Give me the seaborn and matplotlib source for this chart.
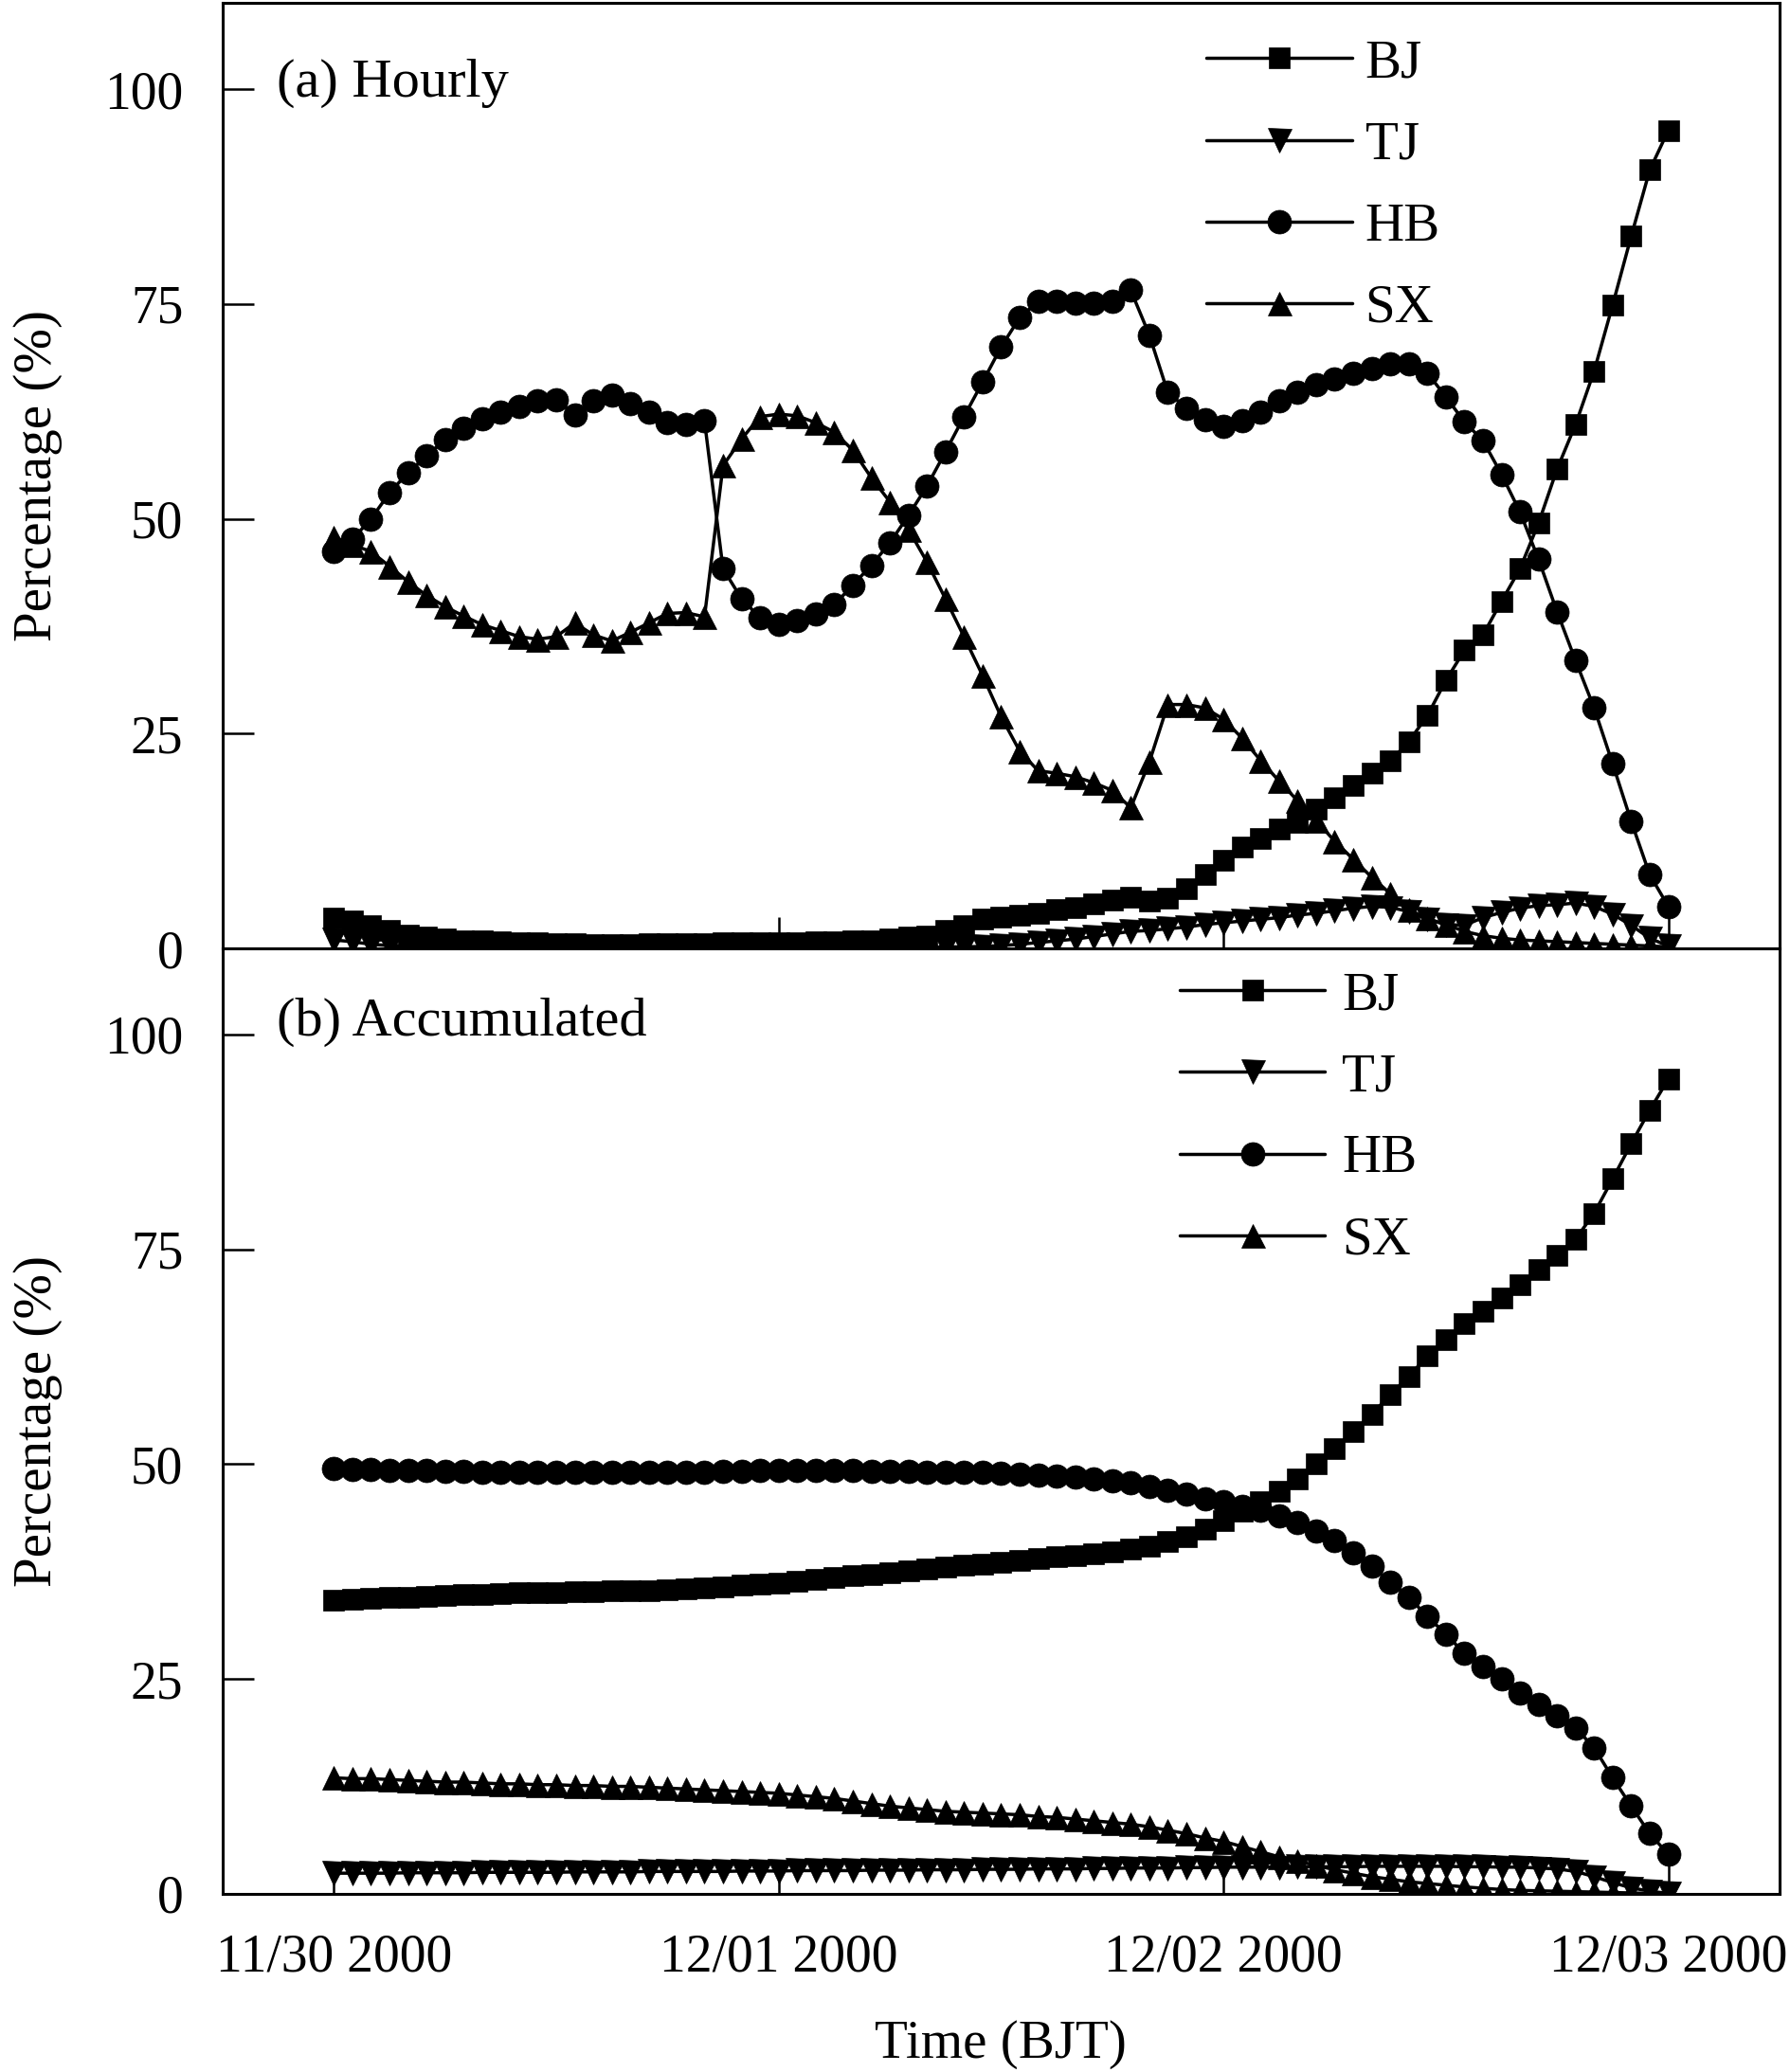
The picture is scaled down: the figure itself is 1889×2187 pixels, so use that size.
import matplotlib
matplotlib.use('Agg')
import matplotlib.pyplot as plt
import matplotlib.dates as mdates
import seaborn as sns
import pandas as pd

# hourly time axis, 11/30 00:00 to 12/03 00:00 (BJT)
times = pd.date_range('2000-11-30 00:00', periods=73, freq='h')

# (a) hourly percentages
bj_hourly = [3.5, 3.2, 2.65, 2.1, 1.6, 1.3, 1.1, 0.95, 0.9, 0.75,
             0.7, 0.7, 0.55, 0.55, 0.5, 0.5, 0.5, 0.55, 0.6, 0.6,
             0.6, 0.65, 0.65, 0.65, 0.65, 0.7, 0.8, 0.8, 0.85, 0.95,
             1.1, 1.3, 1.5, 2.1, 2.7, 3.4, 3.7, 3.9, 4.1, 4.5,
             4.8, 5.2, 5.7, 6.0, 5.5, 5.9, 7.0, 8.6, 10.3, 11.8,
             12.8, 13.9, 14.7, 16.2, 17.6, 19.0, 20.4, 21.8, 24.1, 27.1,
             31.2, 34.7, 36.5, 40.4, 44.2, 49.5, 55.8, 61.0, 67.2, 74.9,
             82.9, 90.6, 95.2]
tj_hourly = [1.0, 0.8, 0.5, 0.35, 0.25, 0.2, 0.15, 0.15, 0.1, 0.1,
             0.1, 0.1, 0.1, 0.1, 0.1, 0.1, 0.1, 0.1, 0.1, 0.1,
             0.1, 0.1, 0.1, 0.1, 0.1, 0.1, 0.1, 0.1, 0.1, 0.1,
             0.15, 0.15, 0.15, 0.2, 0.2, 0.25, 0.35, 0.5, 0.7, 0.9,
             1.1, 1.4, 1.7, 2.0, 2.1, 2.3, 2.5, 2.8, 3.0, 3.2,
             3.4, 3.6, 3.9, 4.1, 4.4, 4.7, 4.9, 4.8, 4.3, 3.4,
             2.8, 2.7, 3.6, 4.2, 4.7, 5.0, 5.1, 5.3, 4.9, 4.0,
             2.7, 1.2, 0.3]
hb_hourly = [46.2, 47.6, 50.0, 53.0, 55.4, 57.3, 59.2, 60.5, 61.7, 62.4,
             63.1, 63.7, 63.9, 62.1, 63.7, 64.4, 63.4, 62.4, 61.2, 61.0,
             61.4, 44.2, 40.7, 38.5, 37.7, 38.2, 38.9, 40.0, 42.3, 44.6,
             47.2, 50.4, 53.8, 57.8, 61.9, 65.9, 70.0, 73.4, 75.3, 75.3,
             75.1, 75.1, 75.3, 76.6, 71.4, 64.7, 62.9, 61.5, 60.8, 61.4,
             62.4, 63.7, 64.7, 65.6, 66.3, 67.0, 67.5, 68.0, 68.0, 67.0,
             64.2, 61.3, 59.1, 55.2, 50.8, 45.3, 39.2, 33.5, 28.0, 21.5,
             14.8, 8.6, 4.9]
sx_hourly = [47.9, 47.0, 46.2, 44.5, 42.7, 41.1, 39.8, 38.7, 37.7, 37.0,
             36.3, 36.0, 36.3, 37.9, 36.5, 35.8, 36.8, 37.9, 39.0, 39.1,
             38.6, 56.2, 59.3, 61.9, 62.2, 62.0, 61.2, 60.1, 58.0, 54.8,
             52.0, 48.8, 45.0, 40.7, 36.3, 31.8, 27.0, 23.0, 20.7, 20.4,
             20.0, 19.3, 18.4, 16.4, 21.7, 28.4, 28.4, 28.0, 26.7, 24.5,
             21.9, 19.5, 17.2, 14.9, 12.5, 10.4, 8.3, 6.4, 4.5, 3.5,
             2.8, 2.0, 1.5, 1.2, 1.0, 0.9, 0.8, 0.7, 0.6, 0.5,
             0.4, 0.3, 0.2]

# (b) accumulated percentages
bj_accum = [34.2, 34.3, 34.4, 34.5, 34.55, 34.6, 34.7, 34.8, 34.85, 34.9,
            35.0, 35.05, 35.1, 35.15, 35.2, 35.25, 35.3, 35.3, 35.35, 35.45,
            35.6, 35.75, 35.9, 36.05, 36.2, 36.4, 36.6, 36.8, 37.0, 37.2,
            37.4, 37.6, 37.8, 38.0, 38.2, 38.4, 38.6, 38.8, 39.0, 39.2,
            39.4, 39.6, 39.8, 40.1, 40.5, 41.0, 41.6, 42.4, 43.4, 44.5,
            45.6, 46.9, 48.3, 50.0, 51.8, 53.8, 55.8, 58.1, 60.2, 62.6,
            64.5, 66.4, 67.8, 69.3, 70.9, 72.6, 74.3, 76.2, 79.2, 83.2,
            87.3, 91.2, 94.8]
tj_accum = [2.4, 2.4, 2.4, 2.4, 2.45, 2.45, 2.45, 2.45, 2.5, 2.5,
            2.5, 2.5, 2.5, 2.55, 2.55, 2.55, 2.55, 2.6, 2.6, 2.6,
            2.6, 2.6, 2.65, 2.65, 2.65, 2.7, 2.7, 2.7, 2.7, 2.75,
            2.75, 2.75, 2.8, 2.8, 2.8, 2.85, 2.85, 2.85, 2.9, 2.9,
            2.9, 2.95, 2.95, 3.0, 3.0, 3.0, 3.05, 3.05, 3.1, 3.1,
            3.1, 3.1, 3.15, 3.15, 3.15, 3.15, 3.2, 3.2, 3.2, 3.2,
            3.2, 3.15, 3.15, 3.1, 3.1, 3.0, 2.9, 2.6, 2.0, 1.3,
            0.7, 0.3, 0.05]
hb_accum = [49.5, 49.4, 49.4, 49.3, 49.3, 49.3, 49.2, 49.2, 49.1, 49.1,
            49.1, 49.0, 49.0, 49.0, 49.0, 49.0, 49.0, 49.1, 49.1, 49.1,
            49.1, 49.2, 49.2, 49.3, 49.3, 49.3, 49.3, 49.3, 49.3, 49.2,
            49.2, 49.2, 49.1, 49.1, 49.0, 49.0, 48.9, 48.8, 48.7, 48.6,
            48.5, 48.3, 48.1, 47.8, 47.4, 47.0, 46.5, 46.0, 45.6, 45.1,
            44.6, 44.0, 43.2, 42.2, 41.1, 39.7, 38.1, 36.3, 34.5, 32.3,
            30.2, 28.0, 26.5, 25.0, 23.4, 22.0, 20.7, 19.3, 17.0, 13.5,
            10.2, 7.0, 4.6]
sx_accum = [13.5, 13.4, 13.4, 13.3, 13.2, 13.1, 13.0, 13.0, 12.9, 12.8,
            12.8, 12.7, 12.7, 12.6, 12.6, 12.5, 12.5, 12.4, 12.3, 12.2,
            12.1, 12.0, 11.9, 11.8, 11.7, 11.5, 11.3, 11.1, 10.8, 10.5,
            10.2, 10.0, 9.8, 9.6, 9.5, 9.4, 9.3, 9.2, 9.0, 8.9,
            8.7, 8.5, 8.3, 8.1, 7.8, 7.4, 7.0, 6.5, 6.1, 5.5,
            4.9, 4.3, 3.8, 3.3, 2.8, 2.4, 2.0, 1.7, 1.4, 1.2,
            1.0, 0.8, 0.65, 0.5, 0.4, 0.35, 0.3, 0.25, 0.2, 0.15,
            0.1, 0.05, 0.0]

regions = ['BJ', 'TJ', 'HB', 'SX']
hourly = [bj_hourly, tj_hourly, hb_hourly, sx_hourly]
accum = [bj_accum, tj_accum, hb_accum, sx_accum]
day_ticks = times[::24]

markers = {'BJ': 's', 'TJ': 'v', 'HB': 'o', 'SX': '^'}
msizes = {'BJ': 15.5, 'TJ': 18, 'HB': 18, 'SX': 18}

sns.set_style('ticks')
plt.rcParams['font.family'] = ['Liberation Serif', 'DejaVu Serif']
plt.rcParams['text.color'] = 'black'
plt.rcParams['axes.labelcolor'] = 'black'

fig = plt.figure(figsize=(18.9, 21.87), dpi=100)
ax_a = fig.add_axes([0.1243, 0.5422, 0.8693, 0.4562])
ax_b = fig.add_axes([0.1243, 0.0860, 0.8693, 0.4562])


def draw_panel(ax, values):
    for name, vals in zip(regions, values):
        df = pd.DataFrame({'time': times, 'pct': vals})
        sns.lineplot(data=df, x='time', y='pct', ax=ax, color='black',
                     marker=markers[name], markersize=msizes[name],
                     markeredgecolor='black', markeredgewidth=0.5,
                     linewidth=2.5, label=name)
    ax.set_xlim(times[0] - pd.Timedelta(hours=6), times[-1] + pd.Timedelta(hours=6))
    ax.set_ylim(0, 110)
    ax.set_yticks([0, 25, 50, 75, 100])
    ax.set_xticks(mdates.date2num(day_ticks.to_pydatetime()))
    ax.xaxis.set_major_formatter(mdates.DateFormatter('%m/%d %Y'))
    ax.minorticks_off()
    ax.tick_params(direction='in', length=24, width=1.8, pad=30,
                   labelsize=40, colors='black')
    for sp in ax.spines.values():
        sp.set_linewidth(2.2)
        sp.set_color('black')
    ax.set_ylabel('Percentage (%)', fontsize=41)
    ax.yaxis.set_label_coords(-0.103, 0.5)
    ax.set_xlabel('')


draw_panel(ax_a, hourly)
draw_panel(ax_b, accum)
ax_a.tick_params(labelbottom=False)

ax_a.legend(loc='upper left', bbox_to_anchor=(0.632, 0.962), frameon=False,
            fontsize=41, handlelength=2.7, handletextpad=0.24,
            labelspacing=0.6, borderaxespad=0, borderpad=0)
ax_b.legend(loc='upper left', bbox_to_anchor=(0.615, 0.976), frameon=False,
            fontsize=41, handlelength=2.68, handletextpad=0.32,
            labelspacing=0.6, borderaxespad=0, borderpad=0)

ax_a.text(0.035, 0.915, '(a) Hourly', transform=ax_a.transAxes,
          fontsize=42, ha='left', va='center')
ax_b.text(0.035, 0.922, '(b) Accumulated', transform=ax_b.transAxes,
          fontsize=42, ha='left', va='center')

ax_b.set_xlabel('Time (BJT)', fontsize=41)
ax_b.xaxis.set_label_coords(0.5, -0.133)

fig.savefig('out.png', dpi=100)
